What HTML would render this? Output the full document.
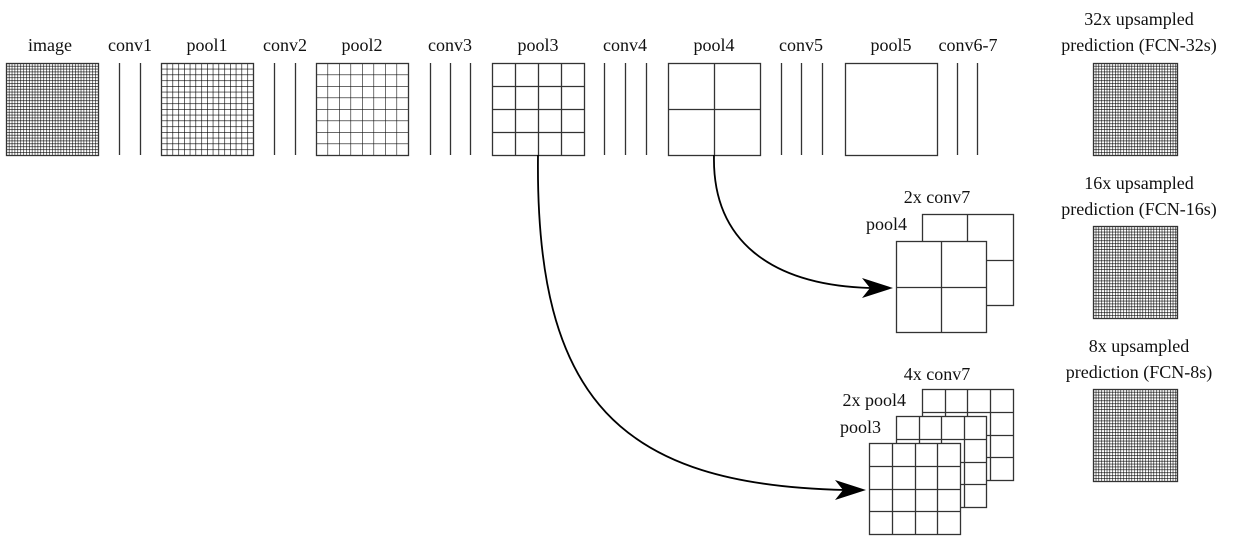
<!DOCTYPE html>
<html><head><meta charset="utf-8"><style>
body{margin:0;background:#fff}
svg text{font-family:"Liberation Serif",serif;font-size:18px;fill:#111}
</style></head><body>
<svg width="1256" height="538" viewBox="0 0 1256 538" xmlns="http://www.w3.org/2000/svg">
<defs>
<pattern id="g32" x="6" y="63" width="2.875" height="2.875" patternUnits="userSpaceOnUse"><path d="M0 0H2.875M0 0V2.875" stroke="#000" stroke-width="1.1" fill="none"/></pattern>
<pattern id="g16" x="161" y="63" width="5.75" height="5.75" patternUnits="userSpaceOnUse"><path d="M0 0H5.75M0 0V5.75" stroke="#000" stroke-width="1.2" fill="none"/></pattern>
<pattern id="g8" x="316" y="63" width="11.5" height="11.5" patternUnits="userSpaceOnUse"><path d="M0 0H11.5M0 0V11.5" stroke="#111" stroke-width="1.2" fill="none"/></pattern>
<pattern id="p32a" x="1093" y="63" width="2.75" height="2.875" patternUnits="userSpaceOnUse"><path d="M0 0H2.75M0 0V2.875" stroke="#000" stroke-width="1.1" fill="none"/></pattern>
<pattern id="p32b" x="1093" y="226" width="2.75" height="2.875" patternUnits="userSpaceOnUse"><path d="M0 0H2.75M0 0V2.875" stroke="#000" stroke-width="1.1" fill="none"/></pattern>
<pattern id="p32c" x="1093" y="389" width="2.75" height="2.875" patternUnits="userSpaceOnUse"><path d="M0 0H2.75M0 0V2.875" stroke="#000" stroke-width="1.1" fill="none"/></pattern>
</defs>
<g text-anchor="middle">
<text x="50" y="51">image</text>
<text x="130" y="51">conv1</text>
<text x="207" y="51">pool1</text>
<text x="285" y="51">conv2</text>
<text x="362" y="51">pool2</text>
<text x="450" y="51">conv3</text>
<text x="538" y="51">pool3</text>
<text x="625" y="51">conv4</text>
<text x="714" y="51">pool4</text>
<text x="801" y="51">conv5</text>
<text x="891" y="51">pool5</text>
<text x="968" y="51">conv6-7</text>
<text x="1139" y="25">32x upsampled</text>
<text x="1139" y="51">prediction (FCN-32s)</text>
<text x="1139" y="189">16x upsampled</text>
<text x="1139" y="215">prediction (FCN-16s)</text>
<text x="1139" y="352">8x upsampled</text>
<text x="1139" y="378">prediction (FCN-8s)</text>
<text x="937" y="203">2x conv7</text>
<text x="937" y="380">4x conv7</text>
</g>
<g text-anchor="end">
<text x="907" y="230">pool4</text>
<text x="906" y="406">2x pool4</text>
<text x="881" y="433">pool3</text>
</g>
<g stroke="#333" stroke-width="1.3" fill="none">
<rect x="6.5" y="63.5" width="92" height="92" fill="url(#g32)"/>
<rect x="161.5" y="63.5" width="92" height="92" fill="url(#g16)"/>
<rect x="316.5" y="63.5" width="92" height="92" fill="url(#g8)"/>
<rect x="1093.5" y="63.5" width="84" height="92" fill="url(#p32a)"/>
<rect x="1093.5" y="226.5" width="84" height="92" fill="url(#p32b)"/>
<rect x="1093.5" y="389.5" width="84" height="92" fill="url(#p32c)"/>
<path d="M119.5 63V155M140.5 63V155M274.5 63V155M295.5 63V155M430.5 63V155M450.5 63V155M470.5 63V155M604.5 63V155M625.5 63V155M646.5 63V155M781.5 63V155M801.5 63V155M822.5 63V155M957.5 63V155M977.5 63V155"/>
<rect x="492.5" y="63.5" width="92" height="92"/>
<path d="M515.5 63V155M538.5 63V155M561.5 63V155M492 86.5H584M492 109.5H584M492 132.5H584"/>
<rect x="668.5" y="63.5" width="92" height="92"/>
<path d="M714.5 63V155M668 109.5H760"/>
<rect x="845.5" y="63.5" width="92" height="92"/>
<rect x="922.5" y="214.5" width="91" height="91" fill="#fff"/>
<path d="M967.5 214V305M922 260.5H1013"/>
<rect x="896.5" y="241.5" width="90" height="91" fill="#fff"/>
<path d="M941.5 241V332M896 287.5H986"/>
<rect x="922.5" y="389.5" width="91" height="91" fill="#fff"/>
<path d="M945.5 389V480M967.5 389V480M990.5 389V480M922 412.5H1013M922 435.5H1013M922 457.5H1013"/>
<rect x="896.5" y="416.5" width="90" height="91" fill="#fff"/>
<path d="M919.5 416V507M941.5 416V507M964.5 416V507M896 439.5H986M896 462.5H986M896 484.5H986"/>
<rect x="869.5" y="443.5" width="91" height="91" fill="#fff"/>
<path d="M892.5 443V534M915.5 443V534M937.5 443V534M869 466.5H960M869 489.5H960M869 511.5H960"/>
</g>
<g stroke="#000" stroke-width="1.8" fill="none">
<path d="M714 155 C712 240 770 285 870 288"/>
<path d="M538 155 C535 400 620 485 845 490"/>
</g>
<path d="M893 288 L862 278 L870 288 L862 298 Z" fill="#000"/>
<path d="M866 490 L835 480 L843 490 L835 500 Z" fill="#000"/>
</svg>
</body></html>
